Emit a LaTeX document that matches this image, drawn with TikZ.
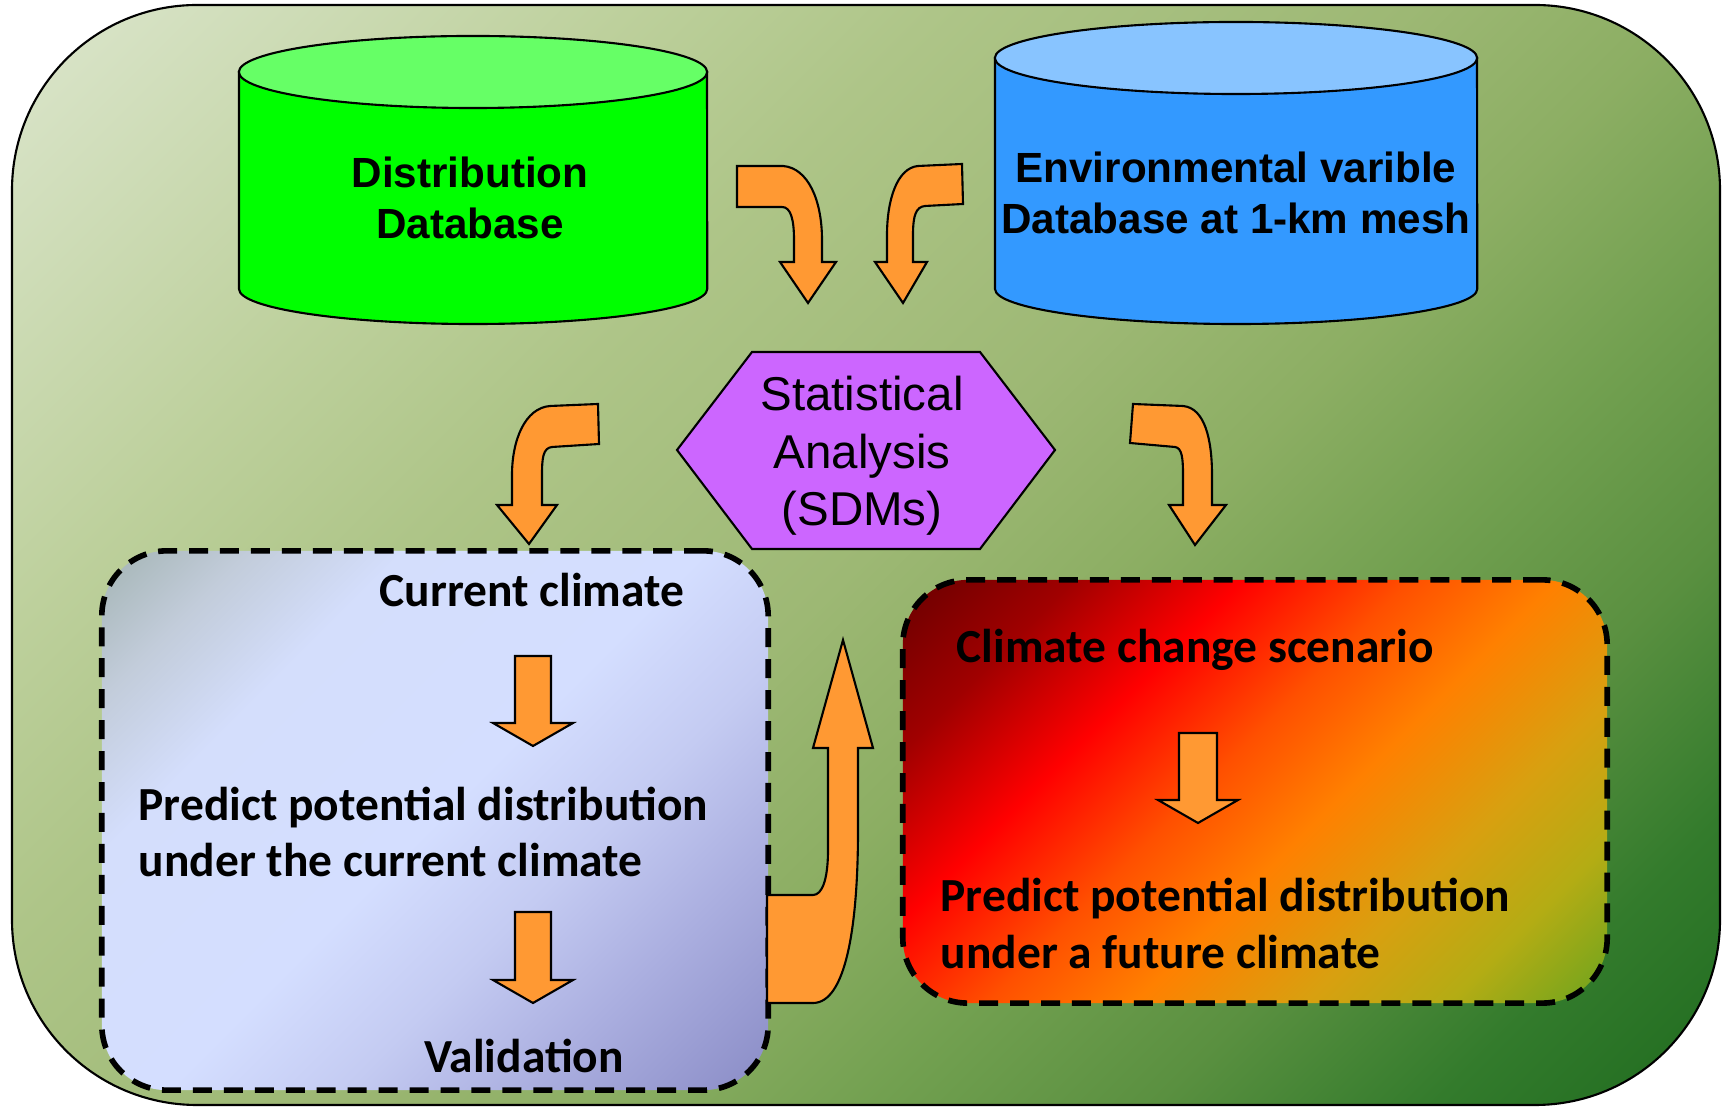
\documentclass[tikz,border=0pt]{standalone}
\usepackage{fontspec}
\setmainfont{Liberation Sans}
\newfontfamily\calib{Carlito}

\definecolor{dbgreen}{HTML}{00FF00}
\definecolor{dbgreentop}{HTML}{66FF66}
\definecolor{dbblue}{HTML}{3399FF}
\definecolor{dbbluetop}{HTML}{88C4FF}
\definecolor{sdmviolet}{HTML}{CC66FF}
\definecolor{arrowor}{HTML}{FF9933}

\definecolor{bga}{HTML}{DCE6CD}
\definecolor{bgb}{HTML}{BDD09C}
\definecolor{bgc}{HTML}{AEC588}
\definecolor{bgd}{HTML}{9DB874}
\definecolor{bge}{HTML}{8CAE63}
\definecolor{bgf}{HTML}{72A050}
\definecolor{bgg}{HTML}{5A9040}
\definecolor{bgh}{HTML}{337B2C}
\definecolor{bgi}{HTML}{1F6B1F}

\definecolor{cura}{HTML}{A4B4B4}
\definecolor{curb}{HTML}{C2CCDA}
\definecolor{curc}{HTML}{D4DEFC}
\definecolor{curd}{HTML}{D4DEFF}
\definecolor{cure}{HTML}{C4CBF2}
\definecolor{curf}{HTML}{ABAFE0}
\definecolor{curg}{HTML}{8A8CC6}

\definecolor{futa}{HTML}{6A0000}
\definecolor{futb}{HTML}{A00000}
\definecolor{futc}{HTML}{FF0000}
\definecolor{futd}{HTML}{FF5000}
\definecolor{fute}{HTML}{FF8000}
\definecolor{futf}{HTML}{D8A010}
\definecolor{futg}{HTML}{B4AC14}
\definecolor{futh}{HTML}{6CA41E}

\pgfdeclarehorizontalshading{bgshade}{100bp}{color(0bp)=(bga); color(14.64bp)=(bga);
  color(30.2bp)=(bgb); color(38bp)=(bgc); color(50bp)=(bgd); color(57.1bp)=(bge);
  color(64.1bp)=(bgf); color(71.2bp)=(bgg); color(78.3bp)=(bgh); color(85.4bp)=(bgi);
  color(100bp)=(bgi)}
\pgfdeclarehorizontalshading{curshade}{100bp}{color(0bp)=(cura); color(14.64bp)=(cura);
  color(23.1bp)=(curb); color(32.3bp)=(curc); color(50bp)=(curd); color(60.6bp)=(cure);
  color(71.2bp)=(curf); color(85.4bp)=(curg); color(100bp)=(curg)}
\pgfdeclarehorizontalshading{futshade}{100bp}{color(0bp)=(futa); color(14.64bp)=(futa);
  color(25.2bp)=(futb); color(35.9bp)=(futc); color(46.5bp)=(futd); color(55.7bp)=(fute);
  color(66.5bp)=(futf); color(75.5bp)=(futg); color(85.4bp)=(futh); color(100bp)=(futh)}

\tikzset{
  cyltext/.style={font=\fontsize{12}{14.4}\selectfont\bfseries, align=center, inner sep=0pt},
  hextext/.style={font=\fontsize{13.5}{16.3}\selectfont, align=center, inner sep=0pt},
  boxtext/.style={font=\calib\fontsize{13.5}{16.2}\selectfont\bfseries, inner sep=0pt},
  dashbox/.style={draw=black, line width=1.6pt, dash pattern=on 5.4pt off 3.4pt,
    rounded corners=0.65cm, shade, shading angle=-45, inner sep=0pt},
  orarrow/.style={fill=arrowor, draw=black, line width=0.6pt}
}

\begin{document}
\begin{tikzpicture}[x=0.01cm,y=-0.01cm]
  \useasboundingbox[fill=white] (0,0) rectangle (1727,1107);
  \draw[line width=0.6pt, rounded corners=1.85cm, shade, shading=bgshade, shading angle=-45]
    (12,5) rectangle (1720,1105);

  \draw[fill=dbgreen, line width=0.6pt] (239,72) -- (239,289)
    arc[start angle=180, end angle=360, x radius=2.34cm, y radius=0.35cm] -- (707,72) -- cycle;
  \draw[fill=dbgreentop, line width=0.6pt] (473,72) ellipse [x radius=2.34cm, y radius=0.36cm];
  \draw[fill=dbblue, line width=0.6pt] (995,58) -- (995,289)
    arc[start angle=180, end angle=360, x radius=2.41cm, y radius=0.35cm] -- (1477,58) -- cycle;
  \draw[fill=dbbluetop, line width=0.6pt] (1236,58) ellipse [x radius=2.41cm, y radius=0.36cm];
  \node[cyltext] (distdb) at (470,198) {Distribution\\Database};
  \node[cyltext] (envdb) at (1236,193) {Environmental varible\\Database at 1-km mesh};

  \draw[orarrow] (737,166) -- (783,166) .. controls (808,168) and (822,200) .. (822,240)
    -- (822,262) -- (836,262) -- (808,303) -- (780,262) -- (794,262) -- (794,240)
    .. controls (794,220) and (791,207) .. (782,207) -- (737,207) -- cycle;
  \draw[orarrow] (962,164) -- (918,166) .. controls (897,168) and (887,200) .. (887,235)
    -- (887,262) -- (875,262) -- (903,303) -- (927,262) -- (913,262) -- (913,235)
    .. controls (913,215) and (916,207) .. (925,206) -- (963,204) -- cycle;

  \draw[fill=sdmviolet, line width=0.6pt] (677,450) -- (752,352) -- (980,352) -- (1055,450)
    -- (980,549) -- (752,549) -- cycle;
  \node[hextext] (sdm) at (862,456) {Statistical\\Analysis\\(SDMs)};

  \draw[orarrow] (598,404) -- (550,406) .. controls (525,408) and (512,440) .. (512,475)
    -- (512,505) -- (497,505) -- (529,544) -- (557,505) -- (542,505) -- (542,475)
    .. controls (542,458) and (543,448) .. (552,447) -- (599,444) -- cycle;
  \draw[orarrow] (1133,404) -- (1183,406) .. controls (1205,408) and (1212,440) .. (1212,475)
    -- (1212,505) -- (1226,505) -- (1195,545) -- (1169,505) -- (1183,505) -- (1183,475)
    .. controls (1183,458) and (1182,448) .. (1175,447) -- (1130,443) -- cycle;

  \node[dashbox, shading=curshade, minimum width=6.66cm, minimum height=5.39cm]
    (curbox) at (435,820.5) {};
  \node[dashbox, shading=futshade, minimum width=7.04cm, minimum height=4.23cm]
    (futbox) at (1255,791.5) {};

  \node[boxtext] (cur) at (532,590) {Current climate};
  \node[boxtext, align=left, anchor=west] (predcur) at (138,832)
    {Predict potential distribution\\under the current climate};
  \node[boxtext] (valid) at (524,1056) {Validation};
  \draw[orarrow] (515,656) -- (551,656) -- (551,723) -- (573,723) -- (533,746) -- (493,723)
    -- (515,723) -- cycle;
  \draw[orarrow] (515,912) -- (551,912) -- (551,980) -- (573,980) -- (533,1003) -- (493,980)
    -- (515,980) -- cycle;

  \node[boxtext, anchor=west] (scen) at (956,650) {Climate change scenario};
  \node[boxtext, align=left, anchor=west] (predfut) at (940,923)
    {Predict potential distribution\\under a future climate};
  \draw[orarrow] (1179,733) -- (1217,733) -- (1217,800) -- (1238,800) -- (1198,823)
    -- (1158,800) -- (1179,800) -- cycle;

  \draw[orarrow] (767,895) -- (813,895) .. controls (822,895) and (828,880) .. (828,850)
    -- (828,748) -- (813,748) -- (843,640) -- (873,748) -- (858,748) -- (858,830)
    .. controls (858,930) and (845,1003) .. (813,1003) -- (767,1003) -- cycle;
\end{tikzpicture}
\end{document}
